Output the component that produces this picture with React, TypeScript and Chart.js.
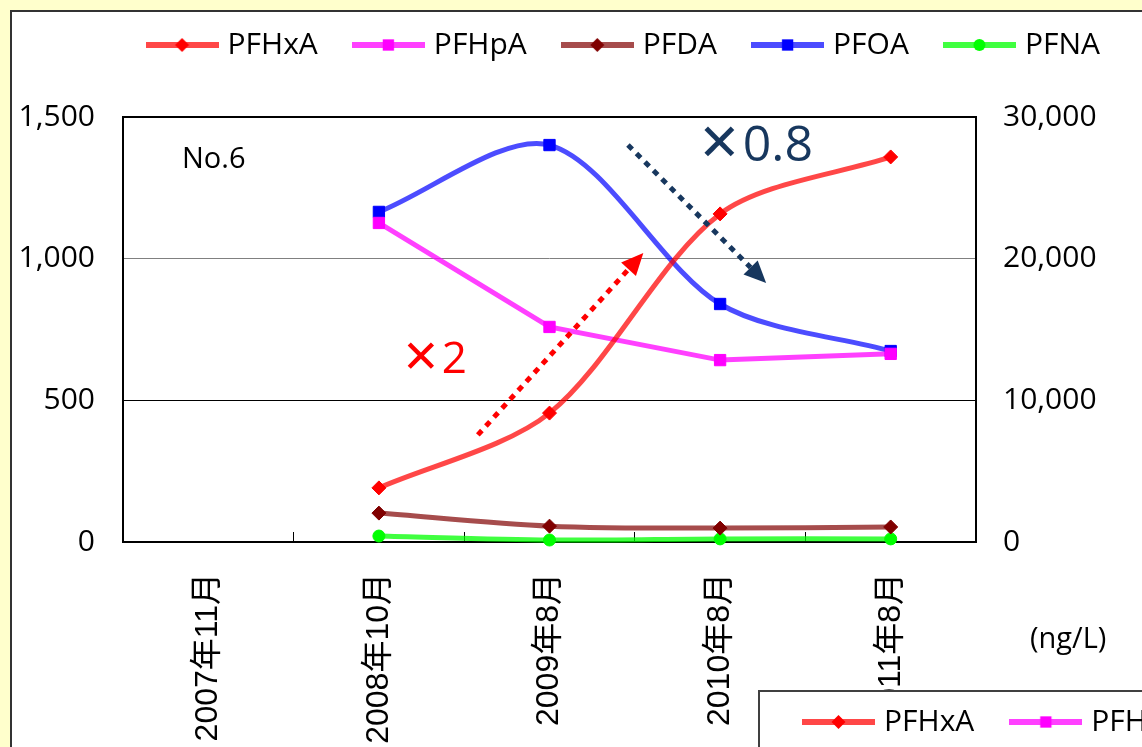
import React, { useEffect, useRef } from 'react';
import { Chart, registerables } from 'chart.js';

Chart.register(...registerables);

// ---- data ----
const categories = ['2007年11月', '2008年10月', '2009年8月', '2010年8月', '2011年8月'];
const seriesNames = ['PFHxA', 'PFHpA', 'PFDA', 'PFOA', 'PFNA'];
// right axis (ng/L, 0-30,000)
const pfhxa = [null, 3820, 9100, 23160, 27180];
const pfoa = [null, 23300, 28020, 16800, 13480];
// left axis (ng/L, 0-1,500)
const pfhpa = [null, 1126, 759, 642, 664];
const pfda = [null, 102, 56, 49, 53];
const pfna = [null, 21, 7, 11, 11];
const leftAxisRange = [0, 1500, 500];
const rightAxisRange = [0, 30000, 10000];
const unitLabel = '(ng/L)';
const stationLabel = 'No.6';

// ---- styles ----
const lineColors = ['rgba(255,0,0,0.72)', 'rgba(255,0,255,0.75)', 'rgba(128,0,0,0.7)', 'rgba(0,0,255,0.7)', 'rgba(0,255,0,0.75)'];
const markerColors = ['#FF0000', '#FF00FF', '#800000', '#0000FF', '#00FF00'];
const markerStyles = ['rectRot', 'rect', 'rectRot', 'rect', 'circle'];
const markerRadius = [7, 8, 7, 8, 6];
const axisIds = ['y1', 'y', 'y', 'y1', 'y'];
const tensions = [0.3, 0, 0.3, 0.3, 0.3];
const seriesValues = [pfhxa, pfhpa, pfda, pfoa, pfna];

// annotations in data coordinates (category index, left-axis value)
const notes = [
  { mark: '', text: stationLabel, x: -0.154, y: 1348, color: '#000000', size: 29 },
  { mark: '✕', text: '2', x: 1.135, y: 642, color: '#FF0000', size: 44 },
  { mark: '✕', text: '0.8', x: 2.87, y: 1394, color: '#17375E', size: 50 },
];
const arrows = [
  { x0: 1.58, y0: 378, x1: 2.55, y1: 1020, color: '#FF0000' },
  { x0: 2.46, y0: 1401, x1: 3.27, y1: 914, color: '#17375E' },
];

const FONT = "'Open Sans', 'Noto Sans', sans-serif";
const W = 1142;
const H = 747;

function makeIcon(i: number): HTMLCanvasElement {
  const c = document.createElement('canvas');
  c.width = 73;
  c.height = 24;
  const g = c.getContext('2d') as CanvasRenderingContext2D;
  g.strokeStyle = lineColors[i];
  g.lineWidth = 6;
  g.beginPath();
  g.moveTo(0, 12);
  g.lineTo(73, 12);
  g.stroke();
  drawMarker(g, i, 36.5, 12);
  return c;
}

function drawMarker(g: CanvasRenderingContext2D, i: number, x: number, y: number) {
  const r = markerRadius[i];
  g.fillStyle = markerColors[i];
  g.beginPath();
  if (markerStyles[i] === 'rectRot') {
    g.moveTo(x - r, y);
    g.lineTo(x, y - r);
    g.lineTo(x + r, y);
    g.lineTo(x, y + r);
    g.closePath();
  } else if (markerStyles[i] === 'rect') {
    const s = r * Math.SQRT1_2;
    g.rect(x - s, y - s, 2 * s, 2 * s);
  } else {
    g.arc(x, y, r, 0, Math.PI * 2);
  }
  g.fill();
}

function drawArrow(ctx: CanvasRenderingContext2D, x0: number, y0: number, x1: number, y1: number, color: string) {
  const ang = Math.atan2(y1 - y0, x1 - x0);
  const headLen = 22;
  const headW = 20;
  const bx = x1 - headLen * Math.cos(ang);
  const by = y1 - headLen * Math.sin(ang);
  ctx.save();
  ctx.strokeStyle = color;
  ctx.fillStyle = color;
  ctx.lineWidth = 5;
  ctx.setLineDash([6, 6]);
  ctx.beginPath();
  ctx.moveTo(x0, y0);
  ctx.lineTo(bx, by);
  ctx.stroke();
  ctx.setLineDash([]);
  ctx.beginPath();
  ctx.moveTo(x1, y1);
  ctx.lineTo(bx + (headW / 2) * Math.sin(ang), by - (headW / 2) * Math.cos(ang));
  ctx.lineTo(bx - (headW / 2) * Math.sin(ang), by + (headW / 2) * Math.cos(ang));
  ctx.closePath();
  ctx.fill();
  ctx.restore();
}

const LEGEND_GAP = 47;

export default function App() {
  const ref = useRef<HTMLCanvasElement | null>(null);

  useEffect(() => {
    if (!ref.current) return;
    const icons = seriesNames.map((_, i) => makeIcon(i));

    const decor = {
      id: 'decor',
      beforeLayout(chart: any) {
        const lg = chart.legend;
        if (lg && !lg.__spaced) {
          const fit = lg.fit;
          lg.fit = function () {
            fit.call(this);
            this.height += LEGEND_GAP;
          };
          lg.__spaced = true;
        }
      },
      beforeDraw(chart: any) {
        const ctx = chart.ctx as CanvasRenderingContext2D;
        ctx.save();
        ctx.fillStyle = '#FFFFCC';
        ctx.fillRect(0, 0, chart.width, chart.height);
        ctx.fillStyle = '#FFFFFF';
        ctx.fillRect(10, 10, chart.width, chart.height);
        ctx.strokeStyle = '#333333';
        ctx.lineWidth = 2;
        ctx.beginPath();
        ctx.moveTo(11, chart.height + 5);
        ctx.lineTo(11, 11);
        ctx.lineTo(chart.width + 5, 11);
        ctx.stroke();
        ctx.restore();
      },
      beforeDatasetsDraw(chart: any) {
        const { ctx, chartArea: a } = chart;
        ctx.save();
        ctx.strokeStyle = '#000';
        ctx.lineWidth = 2;
        ctx.strokeRect(a.left, a.top, a.right - a.left, a.bottom - a.top);
        ctx.restore();
      },
      afterDatasetsDraw(chart: any) {
        const ctx = chart.ctx as CanvasRenderingContext2D;
        const xs = chart.scales.x;
        const ys = chart.scales.y;
        arrows.forEach((a) => {
          drawArrow(ctx, xs.getPixelForValue(a.x0), ys.getPixelForValue(a.y0), xs.getPixelForValue(a.x1), ys.getPixelForValue(a.y1), a.color);
        });
        ctx.save();
        ctx.textBaseline = 'middle';
        ctx.textAlign = 'left';
        notes.forEach((n) => {
          let x = xs.getPixelForValue(n.x);
          const y = ys.getPixelForValue(n.y);
          ctx.fillStyle = n.color;
          if (n.mark) {
            ctx.font = `bold ${Math.round(n.size * 1.02)}px 'DejaVu Sans'`;
            ctx.fillText(n.mark, x, y);
            x += ctx.measureText(n.mark).width + 2;
          }
          ctx.font = `${n.size}px ${FONT}`;
          ctx.fillText(n.text, x, y);
        });
        ctx.restore();
      },
      afterDraw(chart: any) {
        const ctx = chart.ctx as CanvasRenderingContext2D;
        const a = chart.chartArea;
        ctx.save();
        // unit label
        ctx.fillStyle = '#000';
        ctx.font = `29px ${FONT}`;
        ctx.textBaseline = 'middle';
        ctx.textAlign = 'left';
        ctx.fillText(unitLabel, a.right + 54, a.bottom + 98);
        // legend box of the neighbouring chart, cut by the frame
        const bx = 759;
        const by = 691;
        ctx.fillStyle = '#fff';
        ctx.fillRect(bx, by, chart.width, chart.height);
        ctx.strokeStyle = '#404040';
        ctx.lineWidth = 2;
        ctx.strokeRect(bx, by, chart.width, chart.height);
        ctx.font = `30px ${FONT}`;
        let x = bx + 43;
        const y = by + 31;
        seriesNames.forEach((name, i) => {
          ctx.drawImage(icons[i], x, y - 12);
          ctx.fillStyle = '#000';
          ctx.fillText(name, x + 82, y);
          x += 82 + ctx.measureText(name).width + 35;
        });
        ctx.restore();
      },
    };

    const datasets = seriesNames.map((name, i) => ({
      label: name,
      data: seriesValues[i],
      yAxisID: axisIds[i],
      borderColor: lineColors[i],
      backgroundColor: markerColors[i],
      borderWidth: 5,
      tension: tensions[i],
      spanGaps: true,
      pointStyle: markerStyles[i],
      pointRadius: markerRadius[i],
      pointBackgroundColor: markerColors[i],
      pointBorderColor: markerColors[i],
      pointBorderWidth: 1,
      clip: false as any,
    }));

    const chart = new Chart(ref.current, {
      type: 'line',
      data: { labels: categories, datasets },
      plugins: [decor as any],
      options: {
        animation: false,
        responsive: false,
        devicePixelRatio: 1,
        layout: { padding: { top: -10, left: 10, right: 2, bottom: 0 } },
        plugins: {
          tooltip: { enabled: false },
          title: { display: false },
          legend: {
            position: 'top',
            align: 'end',
            labels: {
              usePointStyle: true,
              pointStyleWidth: 61,
              padding: 40,
              color: '#000',
              font: { family: FONT, size: 30 },
              generateLabels: (ch: any) =>
                ch.data.datasets.map((ds: any, i: number) => ({
                  text: ds.label,
                  pointStyle: icons[i],
                  fillStyle: 'rgba(0,0,0,0)',
                  strokeStyle: 'rgba(0,0,0,0)',
                  lineWidth: 0,
                  hidden: false,
                  datasetIndex: i,
                  fontColor: '#000',
                })),
            },
          },
        },
        scales: {
          x: {
            type: 'category',
            offset: true,
            grid: { display: true, drawOnChartArea: false, drawTicks: true, tickLength: -10, color: '#000', lineWidth: 1, offset: true },
            border: { display: false },
            ticks: {
              autoSkip: false,
              minRotation: 90,
              maxRotation: 90,
              padding: 41,
              color: '#000',
              font: { family: "'Liberation Sans', 'Noto Sans CJK JP', sans-serif", size: 32 },
            },
            afterFit: (s: any) => {
              s.height = 205;
            },
          },
          y: {
            position: 'left',
            min: leftAxisRange[0],
            max: leftAxisRange[1],
            ticks: {
              stepSize: leftAxisRange[2],
              padding: 28,
              color: '#000',
              font: { family: FONT, size: 30 },
              callback: (v: any) => Number(v).toLocaleString('en-US'),
            },
            grid: {
              drawTicks: false,
              lineWidth: 1,
              color: (c: any) => (c.tick && c.tick.value === 1000 ? '#808080' : c.tick && c.tick.value === 500 ? '#000000' : 'rgba(0,0,0,0)'),
            },
            border: { display: false },
            afterFit: (s: any) => {
              s.width = 113;
            },
          },
          y1: {
            position: 'right',
            display: true,
            min: rightAxisRange[0],
            max: rightAxisRange[1],
            ticks: {
              stepSize: rightAxisRange[2],
              padding: 27,
              color: '#000',
              font: { family: FONT, size: 30 },
              callback: (v: any) => Number(v).toLocaleString('en-US'),
            },
            grid: { display: false, drawTicks: false },
            border: { display: false },
            afterFit: (s: any) => {
              s.width = 164;
            },
          },
        },
      } as any,
    });
    return () => chart.destroy();
  }, []);

  return (
    <div style={{ position: 'absolute', left: 0, top: 0, width: W, height: H, overflow: 'hidden' }}>
      <canvas ref={ref} width={W} height={H} style={{ display: 'block', width: W, height: H }} />
    </div>
  );
}
